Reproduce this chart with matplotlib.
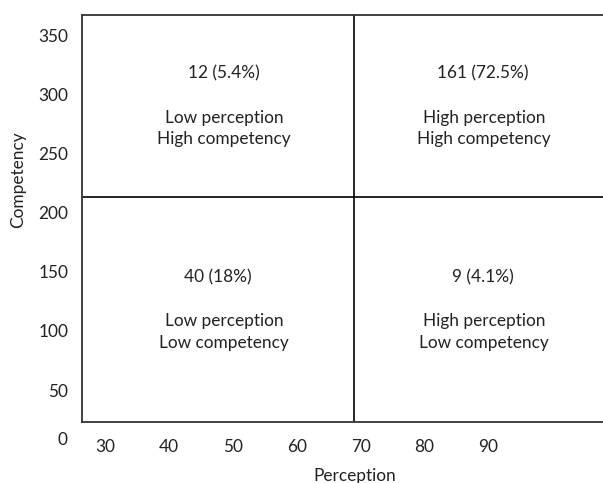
import numpy as np
import matplotlib.pyplot as plt

plt.rcParams['font.family'] = ['Lato', 'DejaVu Sans']

# quadrant data
counts = ['12 (5.4%)', '161 (72.5%)', '40 (18%)', '9 (4.1%)']
labels = ['Low perception\nHigh competency', 'High perception\nHigh competency',
          'Low perception\nLow competency', 'High perception\nLow competency']
count_x = [48.6, 89.1, 47.7, 89.2]
count_y = [318, 318, 145, 145]
label_x = [48.6, 89.3, 48.6, 89.3]
label_y = [271, 271, 99, 99]

x_cut = 68.9
y_cut = 213.4
xticks = [30, 40, 50, 60, 70, 80, 90]
yticks = [50, 100, 150, 200, 250, 300, 350]

fig = plt.figure(figsize=(6.03, 4.83), dpi=100)
ax = fig.add_axes([0.136, 0.1263, 0.87, 0.8427])
ax.set_xlim(26.4, 108.5)
ax.set_ylim(23, 367)

ax.axvline(x_cut, color='black', lw=1.2)
ax.axhline(y_cut, color='black', lw=1.2)

fs = 12.4
for i in range(4):
    ax.text(count_x[i], count_y[i], counts[i], ha='center', va='center', fontsize=fs, color='#222222')
    ax.text(label_x[i], label_y[i], labels[i], ha='center', va='center', fontsize=fs,
            color='#222222', linespacing=1.4)

ax.set_xticks(xticks)
ax.set_yticks(yticks)
ax.tick_params(length=0, labelsize=fs, colors='#222222')
ax.tick_params(axis='x', pad=12)
ax.tick_params(axis='y', pad=10)
ax.text(-0.027, -0.045, '0', transform=ax.transAxes, ha='right', va='center', fontsize=fs, color='#222222')

for s in ['left', 'top', 'bottom']:
    ax.spines[s].set_color('#333333')
    ax.spines[s].set_linewidth(1.3)
ax.spines['right'].set_visible(False)

fig.text(0.589, 0.014, 'Perception', ha='center', va='center', fontsize=fs, color='#222222')
fig.text(0.03, 0.627, 'Competency', ha='center', va='center', rotation=90, fontsize=fs, color='#222222')

plt.savefig('out.png', dpi=100)
